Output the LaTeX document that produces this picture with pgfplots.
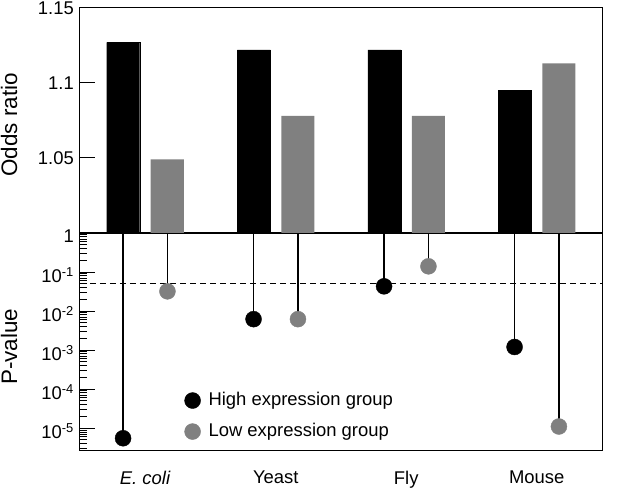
\documentclass[border=0pt]{standalone}
\usepackage{fontspec}
\setmainfont{Liberation Sans}
\usepackage{pgfplots}
\pgfplotsset{compat=1.18}
\begin{document}
\fontsize{18}{22}\selectfont
\begin{tikzpicture}
\path[use as bounding box] (0,0) rectangle (640bp,489bp);
% ---------- top panel: odds ratio ----------
\begin{axis}[
  at={(80bp,256bp)}, anchor=south west,
  scale only axis, width=522bp, height=225bp,
  xmin=-0.5, xmax=3.5, ymin=1, ymax=1.15,
  xtick=\empty,
  ytick={1.05,1.1,1.15}, yticklabels={1.05,1.1,1.15},
  yticklabel style={font=\fontsize{18.5}{22}\selectfont},
  ytick pos=left, tick align=inside, major tick length=15bp,
  axis line style={line width=1bp}, tick style={black,line width=1bp},
  every axis y label/.style={at={(axis description cs:-0.136,0.48)},rotate=90,anchor=center,
    font=\fontsize{22.5}{26}\selectfont},
  ylabel={Odds ratio},
  clip=true,
]
\addplot[ybar, bar width=33bp, bar shift=-22bp, fill=black, draw=black] coordinates {(0,1.127) (1,1.122) (2,1.122) (3,1.095)};
\addplot[ybar, bar width=33bp, bar shift=22bp, fill=gray, draw=none] coordinates {(0,1.049) (1,1.078) (2,1.078) (3,1.113)};
\end{axis}
% ---------- bottom panel: p-values ----------
\begin{axis}[
  at={(80bp,39bp)}, anchor=south west,
  scale only axis, width=522bp, height=217bp,
  xmin=-0.5, xmax=3.5, ymode=log, ymin=2.75e-6, ymax=1,
  xtick={0,1,2,3}, xticklabels={\textit{E. coli},Yeast,Fly,Mouse},
  x tick style={draw=none}, xticklabel style={yshift=-15bp, font=\fontsize{18.5}{22}\selectfont},
  ytick={1,1e-1,1e-2,1e-3,1e-4,1e-5},
  yticklabels={1,10\textsuperscript{-1},10\textsuperscript{-2},10\textsuperscript{-3},10\textsuperscript{-4},10\textsuperscript{-5}},
  yticklabel style={font=\fontsize{18.5}{22}\selectfont, yshift=-3bp},
  minor ytick={9e-1,8e-1,7e-1,6e-1,5e-1,4e-1,3e-1,2e-1,
               9e-2,8e-2,7e-2,6e-2,5e-2,4e-2,3e-2,2e-2,
               9e-3,8e-3,7e-3,6e-3,5e-3,4e-3,3e-3,2e-3,
               9e-4,8e-4,7e-4,6e-4,5e-4,4e-4,3e-4,2e-4,
               9e-5,8e-5,7e-5,6e-5,5e-5,4e-5,3e-5,2e-5,
               9e-6,8e-6,7e-6,6e-6,5e-6,4e-6,3e-6},
  ytick pos=left, tick align=inside, major tick length=15bp, minor tick length=7bp,
  axis line style={line width=1bp}, tick style={black,line width=0.8bp},
  every axis y label/.style={at={(axis description cs:-0.136,0.475)},rotate=90,anchor=center,
    font=\fontsize{22.5}{26}\selectfont},
  ylabel={P-value},
  legend style={at={(axis description cs:0.2,0.275)}, anchor=north west, draw=none, fill=none,
    row sep=11bp, inner sep=0pt, font=\fontsize{18.5}{22}\selectfont},
  legend cell align=left,
  legend image code/.code={\draw[#1] plot coordinates {(0bp,0bp)}; \path[draw=none,fill=none] (-8bp,0bp) -- (14bp,0bp);},
]
\addplot[dash pattern=on 6bp off 4bp, line width=1bp, forget plot] coordinates {(-0.5,0.05) (3.5,0.05)};
\addplot[ycomb, line width=1.2bp, black, forget plot] coordinates {(-0.17,5.5e-6) (0.83,0.0062) (1.83,0.043) (2.83,0.0012)};
\addplot[ycomb, line width=1.2bp, black, forget plot] coordinates {(0.17,0.032) (1.17,0.0062) (2.17,0.14) (3.17,1.1e-5)};
\addplot[only marks, mark=*, mark size=8bp, draw=black, fill=black] coordinates {(-0.17,5.5e-6) (0.83,0.0062) (1.83,0.043) (2.83,0.0012)};
\addlegendentry{High expression group}
\addplot[only marks, mark=*, mark size=8bp, draw=gray, fill=gray] coordinates {(0.17,0.032) (1.17,0.0062) (2.17,0.14) (3.17,1.1e-5)};
\addlegendentry{Low expression group}
\end{axis}
\end{tikzpicture}
\end{document}
